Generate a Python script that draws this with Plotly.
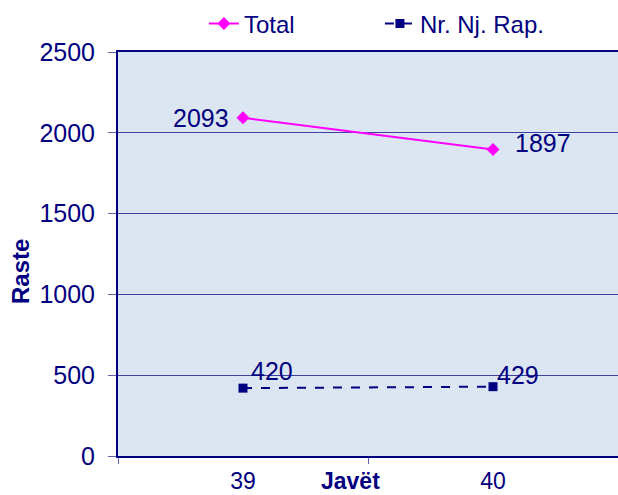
import plotly.graph_objects as go

weeks = ["39", "40"]
total = [2093, 1897]
nr_nj_rap = [420, 429]
y_ticks = [0, 500, 1000, 1500, 2000, 2500]

NAVY = "#000080"
FONT = "Liberation Sans, Arial, sans-serif"

fig = go.Figure()
fig.add_trace(go.Scatter(
    x=weeks, y=total, name="Total", mode="lines+markers",
    line=dict(color="#ff00ff", width=2),
    marker=dict(symbol="diamond", size=10, color="#ff00ff"),
))
fig.add_trace(go.Scatter(
    x=weeks, y=nr_nj_rap, name="Nr. Nj. Rap.", mode="lines+markers",
    line=dict(color=NAVY, width=2, dash="dash"),
    marker=dict(symbol="square", size=9, color=NAVY),
))

# data labels (x given as category index)
total_offsets = [(-12, 0, "right"), (20, 6, "left")]
nr_offsets = [(6, 17, "left"), (2, 12, "left")]
for i, v in enumerate(total):
    dx, dy, xa = total_offsets[i]
    fig.add_annotation(x=i, y=v, xref="x", yref="y", text=str(v), showarrow=False,
                       xshift=dx, yshift=dy, xanchor=xa, yanchor="middle",
                       font=dict(size=25, color=NAVY, family=FONT))
for i, v in enumerate(nr_nj_rap):
    dx, dy, xa = nr_offsets[i]
    fig.add_annotation(x=i, y=v, xref="x", yref="y", text=str(v), showarrow=False,
                       xshift=dx, yshift=dy, xanchor=xa, yanchor="middle",
                       font=dict(size=25, color=NAVY, family=FONT))

# x-axis title placed between categories
fig.add_annotation(x=0.5, y=0, xref="x", yref="paper", text="<b>Javët</b>", showarrow=False,
                   xshift=-18, yshift=-25, yanchor="middle",
                   font=dict(size=23, color=NAVY, family=FONT))
# y-axis title
fig.add_annotation(x=0, y=0.5, xref="paper", yref="paper", text="<b>Raste</b>", showarrow=False,
                   textangle=-90, xshift=-98, yshift=-18, xanchor="center", yanchor="middle",
                   font=dict(size=24, color=NAVY, family=FONT))

fig.update_layout(
    width=618, height=495,
    margin=dict(l=118, r=0, t=52, b=39, autoexpand=False),
    paper_bgcolor="white",
    plot_bgcolor="#dce6f2",
    font=dict(family=FONT, size=25, color=NAVY),
    showlegend=True,
    legend=dict(orientation="h", xref="container", yref="container",
                x=0.33, y=1 - 24 / 495, xanchor="left", yanchor="middle",
                font=dict(size=24, color=NAVY), bgcolor="rgba(0,0,0,0)",
                itemwidth=30, tracegroupgap=0, entrywidth=131),
    xaxis=dict(type="category", range=[-0.5, 1.5], tickson="boundaries",
               ticks="outside", ticklen=6, tickcolor="#6060b0", tickwidth=1,
               showline=True, linecolor=NAVY, linewidth=2, mirror=True,
               showgrid=False, tickfont=dict(size=23, color=NAVY),
               ticklabelstandoff=3),
    yaxis=dict(range=[0, 2500], tickvals=y_ticks, ticks="outside", ticklen=8,
               tickcolor="#6060b0", tickwidth=1,
               showline=True, linecolor=NAVY, linewidth=2, mirror=True,
               showgrid=True, gridcolor="#4040a0", gridwidth=1, zeroline=False,
               tickfont=dict(size=25, color=NAVY), ticklabelstandoff=8),
)

fig.write_html("out.html", post_script="document.body.style.margin='0';",
               config={"displayModeBar": False})
